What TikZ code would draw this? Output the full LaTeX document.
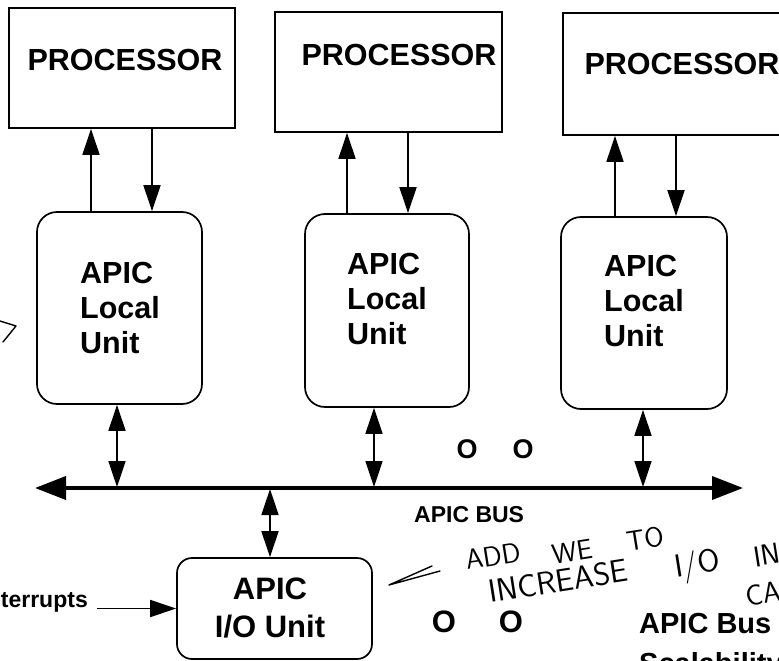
\documentclass[tikz,border=0pt]{standalone}
\usepackage{fontspec}
\setmainfont{Liberation Sans}
\usetikzlibrary{arrows.meta}
\begin{document}
\begin{tikzpicture}[x=1pt,y=-1pt,
  procbox/.style={draw, line width=1.7pt, inner sep=0pt},
  unitbox/.style={draw, line width=1.7pt, rounded corners=20pt, inner sep=0pt},
  iobox/.style={draw, line width=1.7pt, rounded corners=15pt, inner sep=0pt},
  bigtxt/.style={font=\bfseries\fontsize{30.5}{35}\selectfont, inner sep=0pt, align=left},
  midtxt/.style={font=\bfseries\fontsize{23}{26}\selectfont, inner sep=0pt},
  oglyph/.style={font=\bfseries\fontsize{#1}{#1}\selectfont, inner sep=0pt},
  onearr/.style={line width=1.7pt, -{Triangle[length=26pt,width=17pt]}},
  twoarr/.style={line width=1.7pt, {Triangle[length=26pt,width=17pt]}-{Triangle[length=26pt,width=17pt]}},
  busline/.style={line width=3.8pt, {Triangle[length=31pt,width=23pt]}-{Triangle[length=31pt,width=23pt]}},
  hand/.style={font=\sffamily\fontsize{#1}{#1}\selectfont, inner sep=0pt, rotate=9},
  scribble/.style={line width=1.4pt, line cap=round, line join=round}
]
\useasboundingbox (0,0) rectangle (779,661);

% processors
\node[procbox, minimum width=226pt, minimum height=120pt] (p1) at (122,68) {};
\node[procbox, minimum width=227pt, minimum height=120pt] (p2) at (388.5,72) {};
\node[procbox, minimum width=229pt, minimum height=122pt] (p3) at (677.5,74) {};
\node[bigtxt] (p1t) at (125,60) {PROCESSOR};
\node[bigtxt] (p2t) at (399,55) {PROCESSOR};
\node[bigtxt] (p3t) at (682,64) {PROCESSOR};

% local units
\node[unitbox, minimum width=165pt, minimum height=192pt] (l1) at (119.5,308) {};
\node[unitbox, minimum width=164pt, minimum height=193pt] (l2) at (387,310.5) {};
\node[unitbox, minimum width=166pt, minimum height=192pt] (l3) at (644,313) {};
\node[bigtxt, anchor=north west] (l1t) at (80,262) {APIC\\Local\\Unit};
\node[bigtxt, anchor=north west] (l2t) at (347,253) {APIC\\Local\\Unit};
\node[bigtxt, anchor=north west] (l3t) at (604,255) {APIC\\Local\\Unit};

% I/O unit
\node[iobox, minimum width=195pt, minimum height=101pt] (io) at (274.5,608.5) {};
\node[bigtxt, align=center, anchor=north, font=\bfseries\fontsize{31}{38}\selectfont] (iot) at (270,578) {APIC\\I/O Unit};

% x positions of connectors
\coordinate (u1) at (91,0);  \coordinate (d1) at (152,0);
\coordinate (u2) at (347,0); \coordinate (d2) at (408,0);
\coordinate (u3) at (615,0); \coordinate (d3) at (676,0);
\coordinate (b1) at (117,0); \coordinate (b2) at (374,0);
\coordinate (b3) at (643,0); \coordinate (bio) at (270,0);

% processor <-> local unit
\draw[onearr] (l1.north -| u1) -- (p1.south -| u1);
\draw[onearr] (p1.south -| d1) -- (l1.north -| d1);
\draw[onearr] (l2.north -| u2) -- (p2.south -| u2);
\draw[onearr] (p2.south -| d2) -- (l2.north -| d2);
\draw[onearr] (l3.north -| u3) -- (p3.south -| u3);
\draw[onearr] (p3.south -| d3) -- (l3.north -| d3);

% bus
\coordinate (busL) at (35,488);
\coordinate (busR) at (743,488);
\draw[busline] (busL) -- (busR);
\draw[twoarr] (l1.south -| b1) -- ([yshift=1pt]busL -| b1);
\draw[twoarr] (l2.south -| b2) -- ([yshift=1pt]busL -| b2);
\draw[twoarr] (l3.south -| b3) -- ([yshift=1pt]busL -| b3);
\draw[twoarr] ([yshift=-1pt]busL -| bio) -- (io.north -| bio);

\node[midtxt, anchor=west] (busname) at (414,515) {APIC BUS};
\node[oglyph=27] (o1) at (467,449) {O};
\node[oglyph=27] (o2) at (523,449) {O};
\node[oglyph=31] (o3) at (444,622) {O};
\node[oglyph=31] (o4) at (511,622) {O};

% interrupts
\node[midtxt, anchor=base east] (intr) at (88,607) {Interrupts};
\coordinate (intstart) at (97,608.5);
\draw[onearr] (intstart) -- (io.west);

% caption
\node[bigtxt, anchor=north west, font=\bfseries\fontsize{29}{40}\selectfont] (cap) at (639,613) {APIC Bus\\Scalability};

% hand-drawn marks
\coordinate (s1) at (0,321); \coordinate (s2) at (16,326); \coordinate (s3) at (3,342);
\draw[scribble] (s1) -- (s2) -- (s3);
\coordinate (h1) at (432,566); \coordinate (h2) at (389,585); \coordinate (h3) at (440,571);
\draw[scribble] (h1) -- (h2) -- (h3);
\node[hand=28] (w1) at (493,556) {ADD};
\node[hand=28] (w2) at (572,552) {WE};
\node[hand=28] (w3) at (645,539) {TO};
\node[hand=32] (w4) at (558,581) {INCREASE};
\node[hand=32] (w5) at (698,566) {I/O};
\node[hand=29] (w6) at (767,555) {IN};
\node[hand=29] (w7) at (763,594) {CA};
\end{tikzpicture}
\end{document}
